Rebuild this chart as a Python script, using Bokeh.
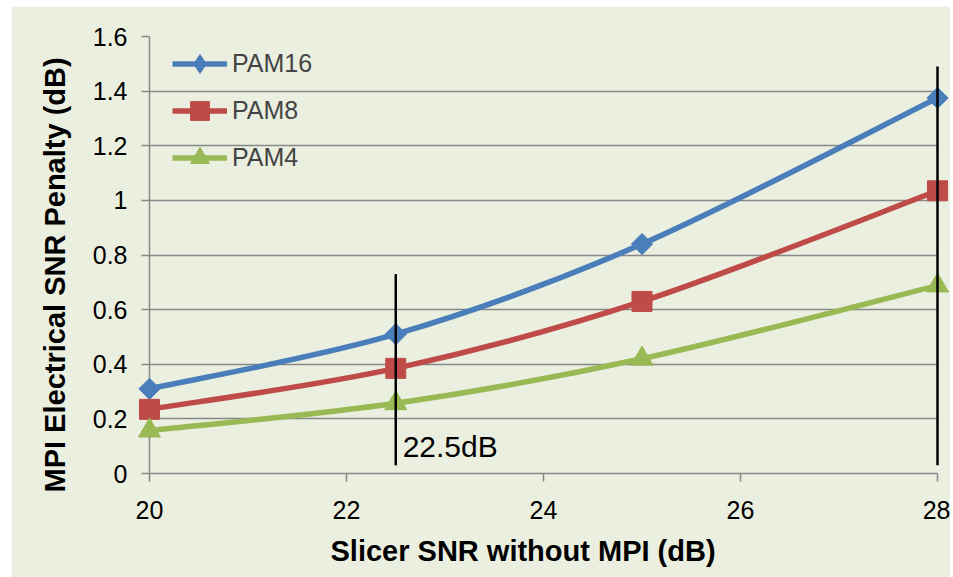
from bokeh.plotting import figure
from bokeh.models import Range1d, FixedTicker, Legend, LegendItem, ColumnDataSource, Title
from bokeh.core.properties import value
from bokeh.embed import file_html
from bokeh.resources import INLINE
import math

# ---- data ----
snr = [20, 22.5, 25, 28]
pam16 = [0.31, 0.51, 0.84, 1.375]
pam8 = [0.235, 0.385, 0.63, 1.035]
pam4 = [0.157, 0.257, 0.42, 0.688]
series_names = ["PAM16", "PAM8", "PAM4"]

x_ticks = [20, 22, 24, 26, 28]
x_tick_labels = ["20", "22", "24", "26", "28"]
y_ticks = [0, 0.2, 0.4, 0.6, 0.8, 1.0, 1.2, 1.4, 1.6]
y_tick_labels = ["0", "0.2", "0.4", "0.6", "0.8", "1", "1.2", "1.4", "1.6"]

marker_x = [22.5, 28]
marker_y0 = [0.03, 0.03]
marker_y1 = [0.73, 1.49]
annot_x = [22.57]
annot_y = [0.099]
annot_text = ["22.5dB"]

x_title = "Slicer SNR without MPI (dB)"
y_title = "MPI Electrical SNR Penalty (dB)"

# ---- style ----
BG = "#EBEFDF"
GRID = "#878787"
FONT = "Liberation Sans"
colors = ["#4A7EBB", "#BE4B48", "#98B954"]
markers = ["square", "square", "triangle"]
angles = [math.pi / 4, 0, 0]
sizes = [15, 20, 22]

p = figure(frame_width=788, frame_height=437,
           x_range=Range1d(20, 28), y_range=Range1d(0, 1.6),
           output_backend="svg", toolbar_location=None,
           min_border_left=138, min_border_right=13, min_border_top=30, min_border_bottom=104)
p.styles = {"margin-left": "11px", "margin-top": "6px"}
p.background_fill_color = BG
p.border_fill_color = BG
p.outline_line_color = None

p.xgrid.grid_line_color = None
p.ygrid.grid_line_color = GRID
p.ygrid.grid_line_width = 1.5
p.ygrid.ticker = FixedTicker(ticks=y_ticks)

p.xaxis.ticker = FixedTicker(ticks=x_ticks)
p.yaxis.ticker = FixedTicker(ticks=y_ticks)
p.xaxis.major_label_overrides = {t: l for t, l in zip(x_ticks, x_tick_labels)}
p.yaxis.major_label_overrides = {t: l for t, l in zip(y_ticks, y_tick_labels)}

for ax in (p.xaxis, p.yaxis):
    ax.axis_line_color = GRID
    ax.axis_line_width = 1.5
    ax.major_tick_line_color = GRID
    ax.major_tick_line_width = 1.5
    ax.major_tick_in = 0
    ax.major_tick_out = 8
    ax.minor_tick_line_color = None
    ax.major_label_text_font = FONT
    ax.major_label_text_font_size = "25px"
    ax.major_label_text_color = "black"

p.xaxis.major_label_standoff = 19
p.yaxis.major_label_standoff = 14

xt = Title(text=x_title, align="left", offset=181, standoff=22,
           text_font=FONT, text_font_size="29px", text_font_style="bold", text_color="black")
p.add_layout(xt, "below")
yt = Title(text=y_title, align="left", offset=-19, standoff=38,
           text_font=FONT, text_font_size="29px", text_font_style="bold", text_color="black")
p.add_layout(yt, "left")


def smooth_controls(xs, ys):
    n = len(xs)
    x0, y0, x1, y1, cx0, cy0, cx1, cy1 = [], [], [], [], [], [], [], []
    for i in range(n - 1):
        ip = max(i - 1, 0)
        inn = min(i + 2, n - 1)
        x0.append(xs[i]); y0.append(ys[i])
        x1.append(xs[i + 1]); y1.append(ys[i + 1])
        cx0.append(xs[i] + (xs[i + 1] - xs[ip]) / 6)
        cy0.append(ys[i] + (ys[i + 1] - ys[ip]) / 6)
        cx1.append(xs[i + 1] - (xs[inn] - xs[i]) / 6)
        cy1.append(ys[i + 1] - (ys[inn] - ys[i]) / 6)
    return dict(x0=x0, y0=y0, x1=x1, y1=y1, cx0=cx0, cy0=cy0, cx1=cx1, cy1=cy1)


items = []
for k, (name, ys, c, m, a, s) in enumerate(zip(series_names, [pam16, pam8, pam4], colors, markers, angles, sizes)):
    src = ColumnDataSource(smooth_controls(snr, ys))
    bz = p.bezier(x0="x0", y0="y0", x1="x1", y1="y1", cx0="cx0", cy0="cy0",
                  cx1="cx1", cy1="cy1", source=src, line_color=c, line_width=5.5)
    if k == 0:
        # tiny diamond (hidden under the rotated squares) gives the legend its diamond glyph
        leg = p.scatter(snr, ys, marker="diamond", size=1, fill_color=c, line_color=c)
    sc = p.scatter(snr, ys, marker=m, angle=a, size=s, fill_color=c, line_color=c, level="overlay")
    items.append(LegendItem(label=name, renderers=[bz, leg if k == 0 else sc]))

p.segment(x0=marker_x, y0=marker_y0, x1=marker_x, y1=marker_y1,
          line_color="black", line_width=2.5, level="overlay")
p.text(x=annot_x, y=annot_y, text=annot_text, text_font=value(FONT),
       text_font_size="30px", text_baseline="middle", text_align="left", text_color="black")

legend = Legend(items=items, location=(23, 292), padding=0, margin=0, spacing=0,
                glyph_width=55, glyph_height=47, label_height=47, label_standoff=5,
                label_text_font=FONT, label_text_font_size="25px",
                background_fill_alpha=0, border_line_alpha=0)
p.add_layout(legend, "center")

open("out.html", "w").write(file_html(p, INLINE))
